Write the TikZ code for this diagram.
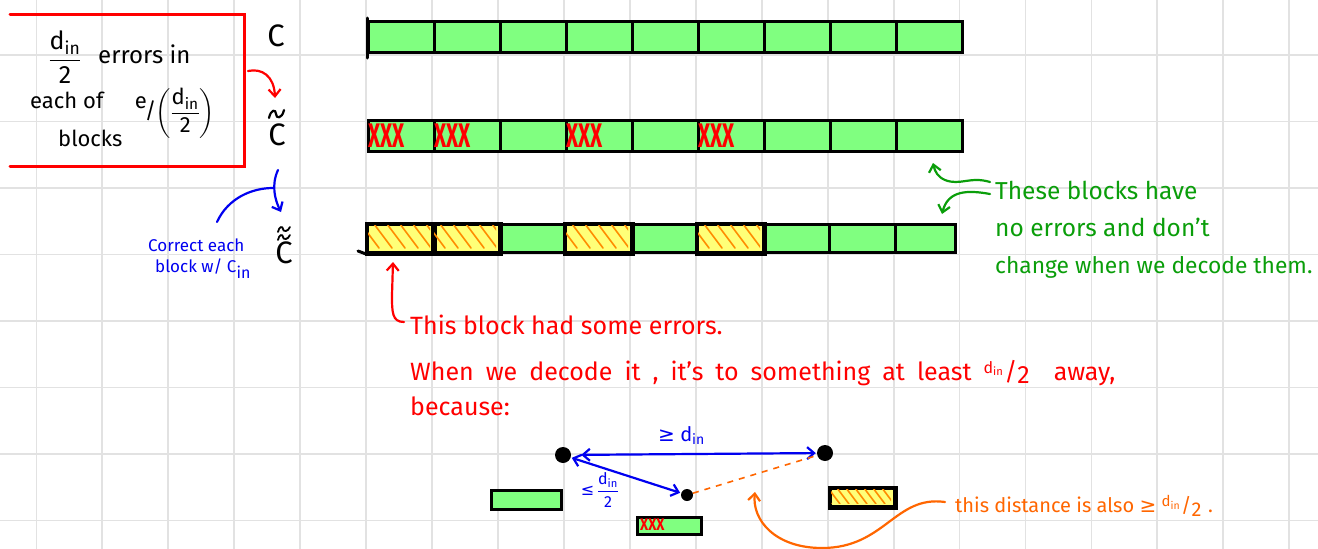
\documentclass[tikz,border=0pt]{standalone}
\usepackage{fontspec}
\usepackage{amsmath}
\setmainfont{Fira Sans}
\newfontfamily\sym{DejaVu Sans}
\usetikzlibrary{arrows.meta}
\definecolor{bgreen}{HTML}{80FF80}
\definecolor{byellow}{HTML}{FFFF78}
\definecolor{hatchc}{HTML}{FF8C00}
\definecolor{pgreen}{HTML}{0A9E0A}
\definecolor{pblue}{HTML}{0000F0}
\definecolor{pred}{HTML}{FF0000}
\definecolor{porange}{HTML}{FF6600}
\definecolor{gridc}{HTML}{E2E2E2}
\newcommand\dinx{d\textsubscript{in}}
\tikzset{
  gridline/.style={draw=gridc, line width=1.8pt},
  blk/.style={draw=black, line width=3pt, fill=bgreen, minimum width=66pt, minimum height=31pt, inner sep=0pt, anchor=north west},
  smallblk/.style={draw=black, line width=3pt, fill=bgreen, inner sep=0pt, anchor=north west},
  hatchline/.style={draw=hatchc, line width=1.6pt, line cap=round},
  xmark/.style={text=pred, font=\bfseries\fontsize{22}{22}\selectfont, inner sep=0pt, anchor=west},
  lbl/.style={inner sep=0pt, anchor=base west},
  cname/.style={inner sep=0pt, font=\fontsize{31}{31}\selectfont},
  tildepen/.style={line width=2.2pt, line cap=round, line join=round},
  redtxt/.style={lbl, text=pred, font=\fontsize{25}{28}\selectfont},
  greentxt/.style={lbl, text=pgreen, font=\fontsize{24.5}{28}\selectfont},
  bluetxt/.style={lbl, text=pblue, font=\fontsize{17}{19}\selectfont},
  orangetxt/.style={lbl, text=porange, font=\fontsize{20}{22}\selectfont},
  boxtxt/.style={lbl, font=\fontsize{22}{24}\selectfont},
  pen/.style={line width=2.2pt, line cap=round, line join=round},
  barb/.style={-{Straight Barb[length=7pt,width=12pt,line width=2.2pt]}},
  dbarb/.style={{Straight Barb[length=7pt,width=12pt,line width=2.2pt]}-{Straight Barb[length=7pt,width=12pt,line width=2.2pt]}},
  dot/.style={circle, fill=black, inner sep=0pt}
}
\begin{document}
\begin{tikzpicture}[x=1pt,y=-1pt]
\useasboundingbox[fill=white] (0,0) rectangle (1318,549);
% grid
\foreach \i in {0,...,19} \draw[gridline] ({36.4+65.94*\i},0) -- ++(0,549);
\foreach \j in {0,...,7} \draw[gridline] (0,{55+66.5*\j}) -- ++(1318,0);

% left red box
\draw[pred, line width=3pt, line cap=round] (10,14) -- (244,14) -- (244,166) -- (10,166);
\node[inner sep=0pt, font=\fontsize{25}{27}\selectfont] (frac1) at (65,57) {$\dfrac{\hbox{\dinx}}{\hbox{2}}$};
\node[boxtxt, font=\fontsize{24}{26}\selectfont] (t1) at (98,63) {errors in};
\node[boxtxt] (t2) at (30,108) {each of};
\node[inner sep=0pt, font=\fontsize{22}{24}\selectfont] (t3) at (175,113) {\raisebox{10pt}{e}\kern-2pt/\kern-1pt$\left(\dfrac{\hbox{\dinx}}{\hbox{2}}\right)$};
\node[boxtxt] (t4) at (58,146) {blocks};

% C labels
\node[cname] (C1) at (276,36) {C};
\node[cname] (C2) at (277,135) {C};
\draw[tildepen] (269,118) .. controls (271,109) and (276,109) .. (276,114) .. controls (276,119) and (282,119) .. (284,110);
\node[cname] (C3) at (284,253) {C};
\draw[tildepen, line width=1.8pt] (278,240) .. controls (279,234) and (283,234) .. (283,237) .. controls (283,240) and (288,240) .. (290,235);
\draw[tildepen, line width=1.8pt] (278,232) .. controls (279,226) and (283,226) .. (283,229) .. controls (283,232) and (288,232) .. (290,227);

% red arrow C -> C~
\coordinate (ra0) at (248,71);
\coordinate (ra1) at (275,98);
\draw[pen, pred, barb] (ra0) .. controls (262,68) and (274,76) .. (ra1);

% blue arrow C~ -> C~~
\coordinate (ba0) at (278,170);
\coordinate (ba1) at (281,212);
\coordinate (bj) at (273,188);
\draw[pen, pblue, barb] (ba0) .. controls (271,185) and (275,200) .. (ba1);
\node[bluetxt] (bt1) at (148,251) {Correct each};
\node[bluetxt] (bt2) at (155,272) {block w/ C\textsubscript{\fontsize{16}{16}\selectfont in}};
\draw[pen, pblue] (217,222) .. controls (228,198) and (252,188) .. (bj);

% row 1
\foreach \k in {0,...,8} \node[blk] (a\k) at ({367+66*\k},20) {};
\draw[line width=3pt, line cap=round] (367,18) -- (367,58);
% row 2
\foreach \k in {0,...,8} \node[blk] (b\k) at ({367+66*\k},119) {};
\foreach \k in {0,1,3,5} \node[xmark] (x\k) at ({368+66*\k},136) {\scalebox{0.95}[1.55]{XXX}};
% row 3
\foreach \k in {0,...,8} {
  \ifnum\k=0 \def\fc{byellow}\else\ifnum\k=1 \def\fc{byellow}\else\ifnum\k=3 \def\fc{byellow}\else\ifnum\k=5 \def\fc{byellow}\else\def\fc{bgreen}\fi\fi\fi\fi
  \node[blk, fill=\fc, minimum height=28pt, minimum width={\ifnum\k=8 60pt\else 66pt\fi}] (c\k) at ({366+66*\k},223) {};
}
\foreach \k in {0,1,3,5} {
  \begin{scope}
    \clip ({368+66*\k},225) rectangle ({364+66*(\k+1)},249);
    \foreach \t in {-18,-5,...,66} \draw[hatchline] ({366+66*\k+\t},224) -- ++(18,24);
  \end{scope}
  \draw[line width=3pt] (c\k.north west) rectangle (c\k.south east);
}
\draw[line width=3pt, line cap=round] (358,251) -- (c0.south west);

% green annotation
\node[greentxt] (g1) at (995,199) {These blocks have};
\node[greentxt] (g2) at (995,236) {no errors and don't};
\node[greentxt, font=\fontsize{22.8}{28}\selectfont] (g3) at (995,273) {change when we decode them.};
\coordinate (gs1) at (990,182);
\coordinate (ge1) at (933,163);
\coordinate (gs2) at (990,194);
\coordinate (ge2) at (942,214);
\draw[pen, pgreen, barb] (gs1) .. controls (970,176) and (960,186) .. (945,180) .. controls (938,177) and (935,172) .. (ge1);
\draw[pen, pgreen, barb] (gs2) .. controls (968,190) and (948,190) .. (ge2);

% red annotation
\coordinate (rs) at (404,322);
\coordinate (re) at (393,262);
\draw[pen, pred, barb] (rs) .. controls (392,322) and (392,312) .. (392,295) -- (re);
\node[redtxt] (r1) at (410,334) {This block had some errors.};
\node[redtxt] (r2) at (410,380) {\spaceskip=12pt plus 2pt When we decode it\ , it's to something at least {\fontsize{16}{16}\selectfont\raisebox{7pt}{\dinx}}\kern1pt/\raisebox{-3pt}{2}\ \ away,};
\node[redtxt] (r3) at (410,415) {because:};

% bottom diagram
\node[dot, minimum size=16pt] (A) at (563,455) {};
\node[dot, minimum size=16pt] (B) at (825,453) {};
\node[dot, minimum size=12pt] (P) at (687,495) {};
\draw[pen, pblue, dbarb, shorten <=10pt, shorten >=1pt] (A) -- (B);
\draw[pen, pblue, dbarb, shorten <=1pt, shorten >=1pt] (A) -- (P);
\node[bluetxt, font=\fontsize{20}{22}\selectfont] (lab1) at (658,441) {{\sym ≥} \dinx};
\node[inner sep=0pt, text=pblue, font=\fontsize{16}{17}\selectfont] (lab2) at (600,490) {{\sym ≤}\,$\dfrac{\hbox{\dinx}}{\hbox{2}}$};
\draw[porange, line width=1.6pt, dashed, dash pattern=on 6pt off 6pt] (P) -- (B);

\node[smallblk, minimum width=70pt, minimum height=19pt] (s1) at (490,489) {};
\node[smallblk, minimum width=64pt, minimum height=17pt] (s2) at (636,516) {};
\node[xmark, font=\bfseries\fontsize{14}{14}\selectfont] (s2x) at (640,525) {\scalebox{1}[1.2]{XXX}};
\node[smallblk, fill=byellow, minimum width=64pt, minimum height=18pt] (s3) at (829,487) {};
\begin{scope}
  \clip (831,489) rectangle (891,503);
  \foreach \t in {-10,-1,...,64} \draw[hatchline] ({829+\t},488) -- ++(12,16);
\end{scope}
\draw[line width=3pt] (s3.north west) rectangle (s3.south east);

% orange annotation
\node[orangetxt] (o1) at (955,512) {this distance is also {\sym ≥} {\fontsize{15}{15}\selectfont\raisebox{6pt}{\dinx}}\kern1pt/\raisebox{-4pt}{2}\,\,.};
\coordinate (os) at (945,502);
\coordinate (oe) at (755,492);
\draw[pen, porange, barb] (os) .. controls (895,495) and (885,548) .. (822,548) .. controls (775,548) and (752,520) .. (oe);
\end{tikzpicture}
\end{document}
